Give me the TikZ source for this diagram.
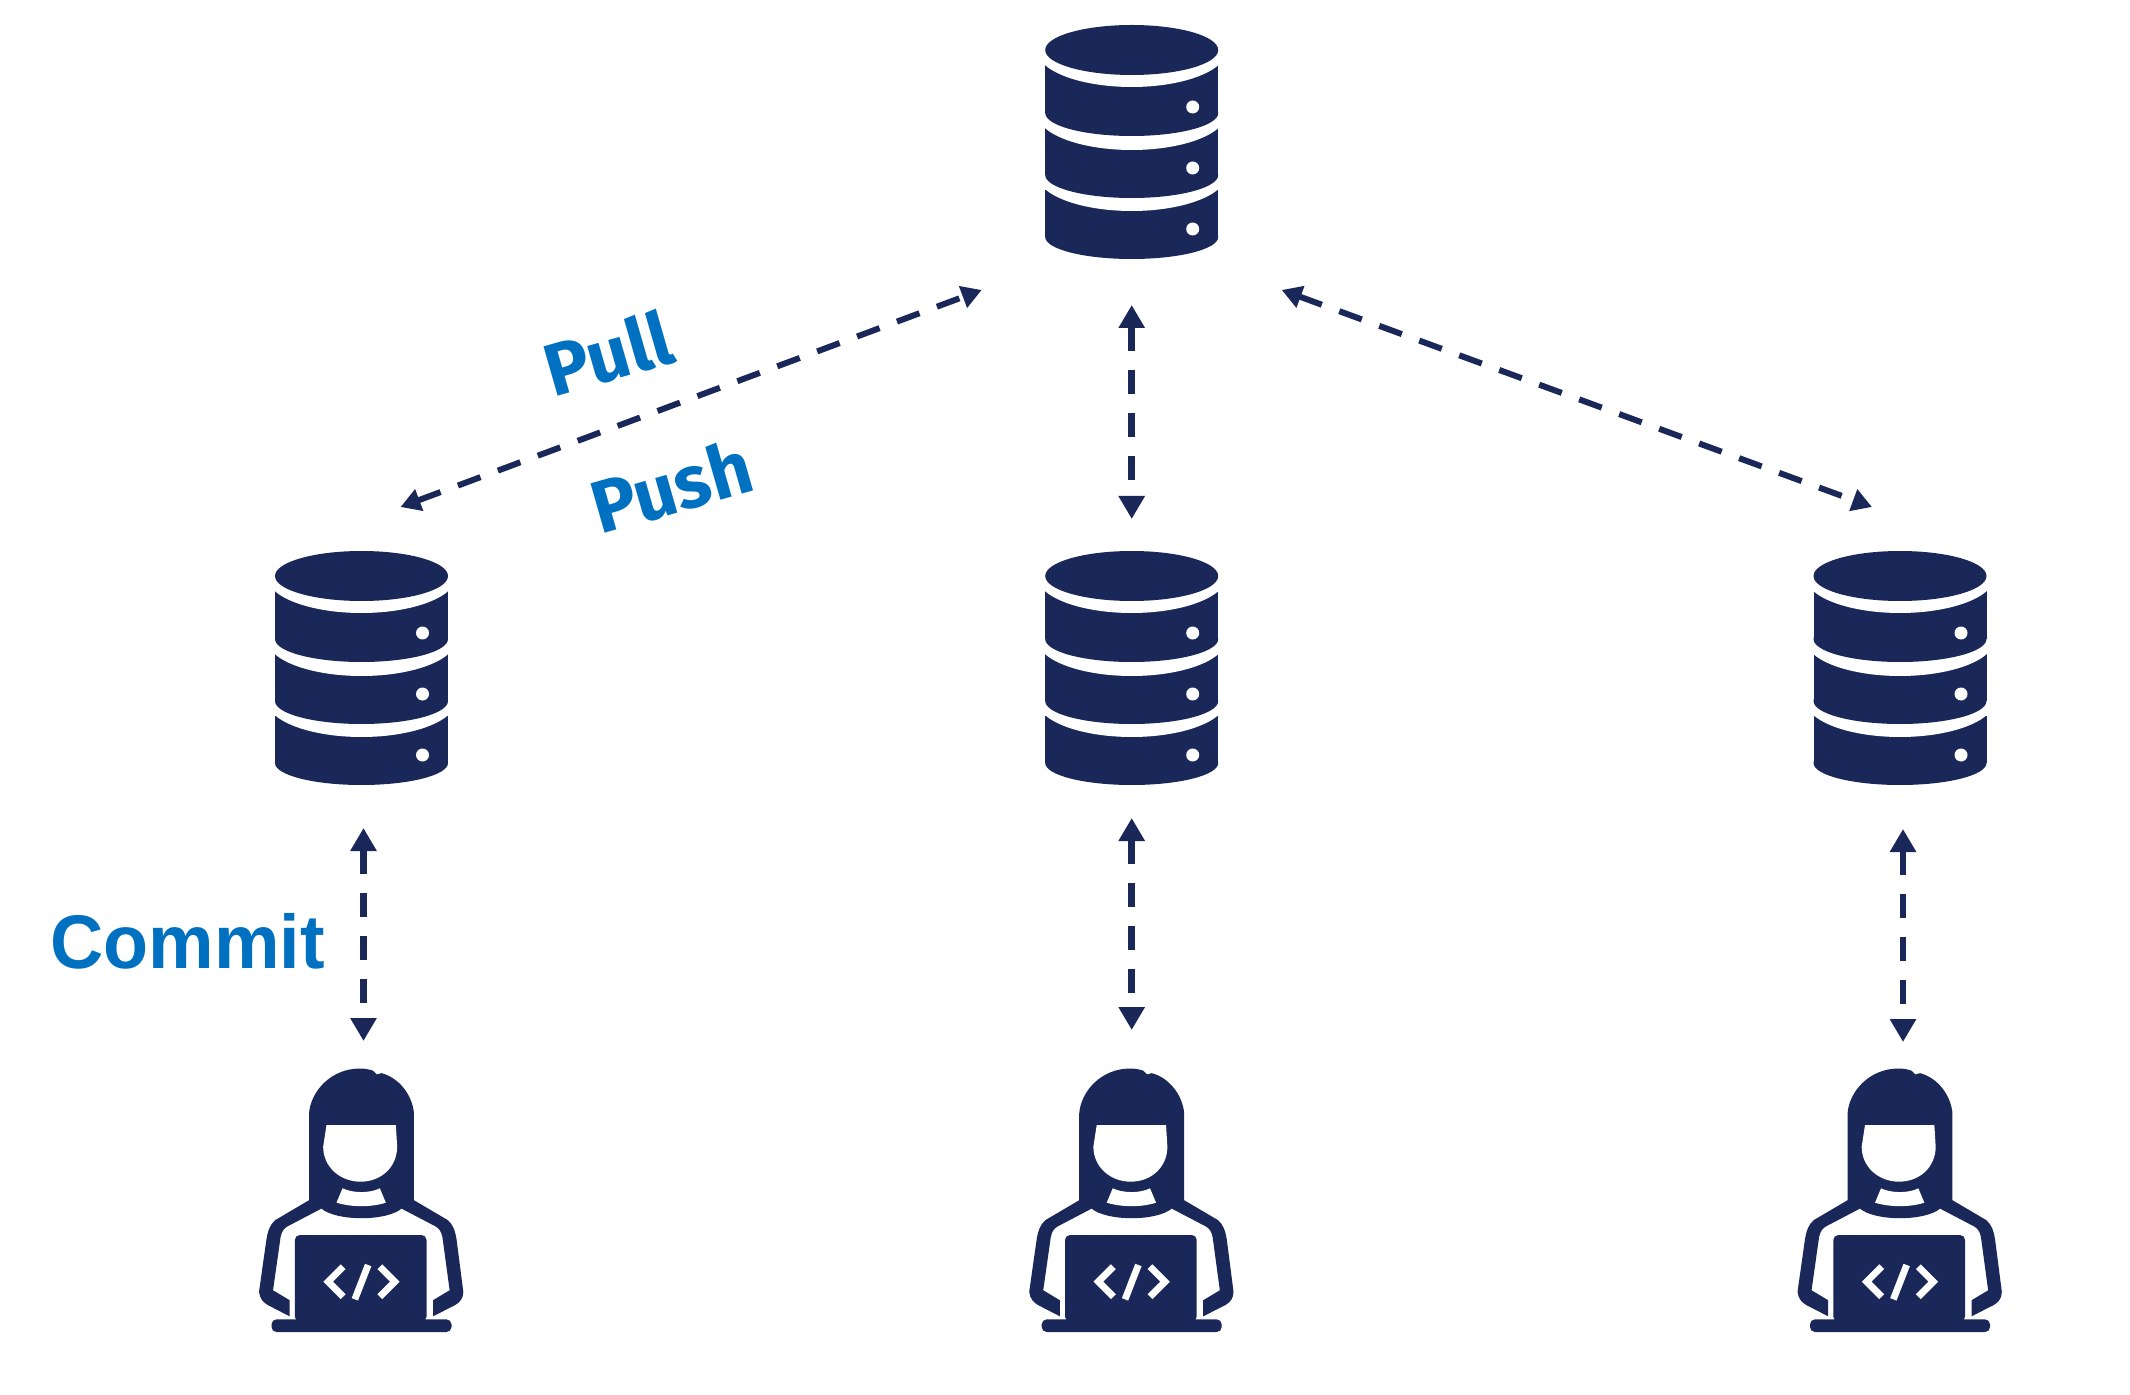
\documentclass[tikz,border=0pt]{standalone}
\usepackage{fontspec}
\usetikzlibrary{arrows.meta,calc}
\newfontfamily\commitfont{Liberation Sans}
\newfontfamily\pfont{Fira Sans}
\definecolor{navy}{HTML}{1A2859}
\definecolor{labelblue}{HTML}{0070C0}
\tikzset{
  conn/.style={navy,line width=3.3pt,dash pattern=on 12pt off 9.5pt,
    {Triangle[length=11.5pt,width=12.5pt]}-{Triangle[length=11.5pt,width=12.5pt]}},
  diagconn/.style={navy,line width=3pt,dash pattern=on 12pt off 9.3pt,
    {Triangle[length=10pt,width=11pt]}-{Triangle[length=10pt,width=11pt]}},
  dbbox/.style={minimum width=86pt,minimum height=117pt,inner sep=0pt,outer sep=0pt},
  personbox/.style={minimum width=102pt,minimum height=131pt,inner sep=0pt,outer sep=0pt},
  lab/.style={labelblue,inner sep=0pt,anchor=center},
  dbicon/.pic={
    \begin{scope}[shift={(0,-142)}]
    \foreach \t/\tc/\b/\bc in {190/211/237/259,128/150/175/198,65/87/113/136}{
      \fill[navy] (-86.5,\t) rectangle (86.5,\b);
      \fill[navy] (0,\b) ellipse [x radius=86.5,y radius={\bc-\b}];
      \fill[white] (0,{\tc-37}) ellipse [x radius=95,y radius=37];
    }
    \fill[navy] (0,50) ellipse [x radius=86.5,y radius=25];
    \foreach \y in {107,168,229}{\fill[white] (61,\y) circle [radius=6.5];}
    \end{scope}
  },
  personicon/.pic={
    \begin{scope}[scale=1/3,shift={(-365,-450)}]
    % hair and body outline
    \filldraw[navy,line width=0.8pt] (210,452) -- (108,512) .. controls (92,525) and (86,545) .. (82,570)
      -- (60,725) .. controls (62,745) and (72,755) .. (85,763) -- (147,795) -- (147,752)
      -- (97,722) -- (120,560) .. controls (124,542) and (130,535) .. (140,528)
      -- (245,473) .. controls (290,512) and (440,512) .. (485,473)
      -- (590,528) .. controls (600,535) and (606,542) .. (610,560)
      -- (632,722) -- (582,752) -- (582,795) -- (645,763) .. controls (658,755) and (668,745) .. (668,725)
      -- (648,570) .. controls (644,545) and (638,525) .. (622,512) -- (520,452)
      -- (520,190) .. controls (515,135) and (475,85) .. (425,72) -- (410,76) -- (398,64)
      .. controls (385,60) and (375,58) .. (360,58) .. controls (275,58) and (215,125) .. (210,190) -- cycle;
    \fill[white] (260,225) -- (468,225) -- (472,290) .. controls (472,350) and (425,395) .. (362,395)
      .. controls (300,395) and (250,350) .. (250,290) -- cycle;
    \fill[white] (308,415) .. controls (340,430) and (390,430) .. (420,415) -- (438,458)
      .. controls (395,472) and (335,472) .. (290,458) -- cycle;
    % laptop
    \fill[navy,rounded corners=2.5pt] (165,815) -- (165,555) -- (560,555) -- (560,815) -- cycle;
    \fill[navy,rounded corners=2.5pt] (95,808) -- (635,808) -- (635,846) -- (95,846) -- cycle;
    % code mark
    \draw[white,line width=3.4pt] (310,650) -- (265,695) -- (310,740);
    \draw[white,line width=3.4pt] (385,645) -- (345,748);
    \draw[white,line width=3.4pt] (420,650) -- (465,695) -- (420,740);
    \end{scope}
  }
}
\begin{document}
\begin{tikzpicture}[x=0.5pt,y=-0.5pt]
\useasboundingbox (0,0) rectangle (2130,1395);
% icons
\node[dbbox] (db0) at (1131.7,142) {};
\node[dbbox] (db1) at (361.5,668) {};
\node[dbbox] (db2) at (1131.7,668) {};
\node[dbbox] (db3) at (1900,668) {};
\node[personbox] (p1) at (361.5,1200) {};
\node[personbox] (p2) at (1131.7,1200) {};
\node[personbox] (p3) at (1900,1200) {};
\foreach \n in {db0,db1,db2,db3}{\pic at (\n) {dbicon};}
\foreach \n in {p1,p2,p3}{\pic at (\n) {personicon};}
% connectors
\draw[diagconn] ($(db1.north)+(39,-44)$) -- ($(db0.south)+(-150,31)$);
\draw[conn] ($(db0.south)+(0,46)$) -- ($(db2.north)+(0,-32)$);
\draw[diagconn] ($(db0.south)+(150,31)$) -- ($(db3.north)+(-28,-44)$);
\draw[conn] ($(db1.south)+(2,43)$) -- ($(p1.north)+(2,-28)$);
\draw[conn] ($(db2.south)+(0,33)$) -- ($(p2.north)+(0,-39)$);
\draw[conn] ($(db3.south)+(3,44)$) -- ($(p3.north)+(3,-27)$);
% labels
\node[lab,rotate=16,font={\pfont\bfseries\fontsize{37}{41}\selectfont}] (pull) at (608,353) {Pull};
\node[lab,rotate=16,font={\pfont\bfseries\fontsize{37}{41}\selectfont}] (push) at (671,486) {Push};
\node[lab,anchor=base west,xscale=0.97,font={\commitfont\bfseries\fontsize{38}{42}\selectfont}] (commit) at (50,968) {Commit};
\end{tikzpicture}
\end{document}
